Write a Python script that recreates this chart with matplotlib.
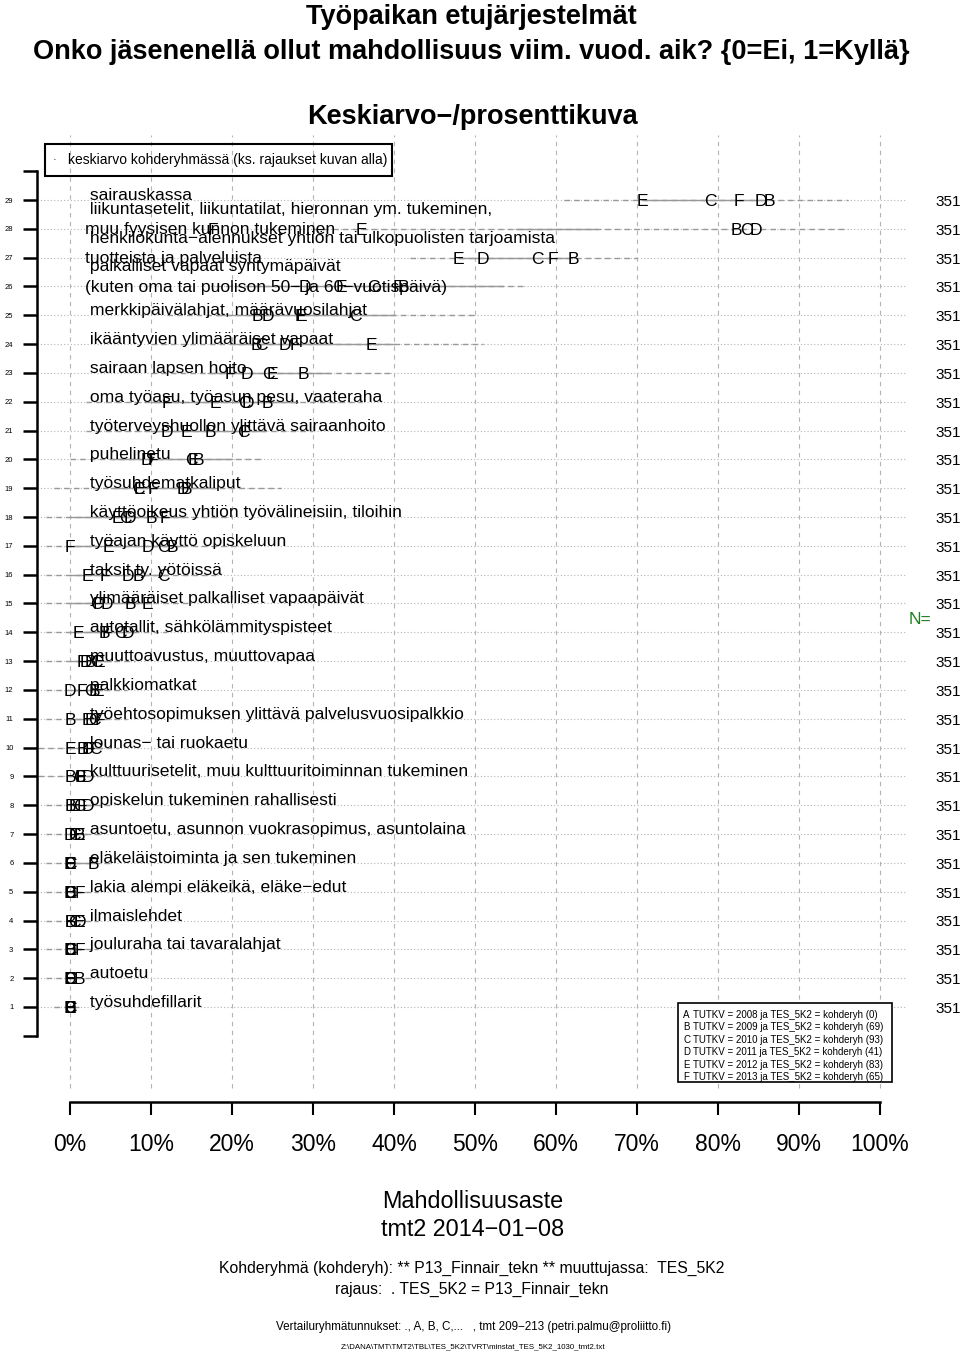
import matplotlib
matplotlib.use("Agg")
import matplotlib.pyplot as plt
from matplotlib.patches import Rectangle

plt.rcParams['font.family'] = ['Liberation Sans', 'DejaVu Sans']

W, H = 960, 1352

rows = list(range(29, 0, -1))
labels = [
    "sairauskassa",
    "liikuntasetelit, liikuntatilat, hieronnan ym. tukeminen,\nmuu fyysisen kunnon tukeminen",
    "henkilökunta−alennukset yhtiön tai ulkopuolisten tarjoamista\ntuotteista ja palveluista",
    "palkalliset vapaat syntymäpäivät\n(kuten oma tai puolison 50− ja 60−vuotispäivä)",
    "merkkipäivälahjat, määrävuosilahjat",
    "ikääntyvien ylimääräiset vapaat",
    "sairaan lapsen hoito",
    "oma työasu, työasun pesu, vaateraha",
    "työterveyshuollon ylittävä sairaanhoito",
    "puhelinetu",
    "työsuhdematkaliput",
    "käyttöoikeus yhtiön työvälineisiin, tiloihin",
    "työajan käyttö opiskeluun",
    "taksit ty. yötöissä",
    "ylimääräiset palkalliset vapaapäivät",
    "autotallit, sähkölämmityspisteet",
    "muuttoavustus, muuttovapaa",
    "palkkiomatkat",
    "työehtosopimuksen ylittävä palvelusvuosipalkkio",
    "lounas− tai ruokaetu",
    "kulttuurisetelit, muu kulttuuritoiminnan tukeminen",
    "opiskelun tukeminen rahallisesti",
    "asuntoetu, asunnon vuokrasopimus, asuntolaina",
    "eläkeläistoiminta ja sen tukeminen",
    "lakia alempi eläkeikä, eläke−edut",
    "ilmaislehdet",
    "jouluraha tai tavaralahjat",
    "autoetu",
    "työsuhdefillarit",
]

# group percentages per row (rows 29 -> 1)
grp_B = [86.4, 82.3, 62.1, 41.2, 23.1, 23.0, 28.8, 24.4, 17.3, 15.8, 14.4, 10.1, 12.7, 8.4, 7.4,
         4.3, 2.5, 3.0, 0.0, 1.5, 0.0, 0.0, 1.2, 2.9, 0.0, 0.0, 0.0, 1.2, 0.0]
grp_C = [79.1, 83.5, 57.7, 37.5, 35.3, 23.6, 24.5, 21.5, 21.4, 15.0, 8.4, 6.8, 11.5, 11.5, 3.3,
         6.2, 3.3, 2.5, 3.0, 3.2, 1.2, 1.2, 0.5, 0.0, 0.0, 0.5, 0.0, 0.0, 0.0]
grp_D = [85.3, 84.7, 51.0, 29.0, 24.4, 26.5, 21.8, 22.0, 12.0, 9.5, 14.0, 7.4, 9.6, 7.2, 4.6,
         7.2, 2.0, 0.0, 2.6, 2.2, 2.2, 2.2, 0.0, 0.0, 0.0, 1.2, 0.0, 0.0, 0.0]
grp_E = [70.7, 36.0, 47.9, 33.5, 28.6, 37.2, 25.0, 18.0, 14.4, 15.2, 8.6, 5.9, 4.7, 2.1, 9.5,
         1.0, 3.6, 3.5, 2.2, 0.0, 1.4, 0.5, 1.2, 0.0, 0.0, 1.2, 0.0, 0.0, 0.0]
grp_F = [82.6, 17.7, 59.6, 40.5, 28.4, 27.8, 19.8, 12.0, 21.6, 10.2, 10.2, 11.7, 0.0, 4.3, 3.5,
         4.5, 1.5, 1.5, 3.7, 2.5, 1.2, 1.5, 0.5, 0.0, 1.2, 0.0, 1.2, 0.0, 0.0]
groups = {'B': grp_B, 'C': grp_C, 'D': grp_D, 'E': grp_E, 'F': grp_F}

# gray range lines (dashed wide, solid narrow)
dash_lo = [61, 30, 42, 18, 12, 10, 10, 2, 2, 0, -2, -3, -3, -3, -3, -3, -3, -3, -3, -4, -4, -3,
           -3, -3, -3, -3, -3, -3, -2]
dash_hi = [96, 96, 70, 56.4, 50, 51, 39.7, 36, 30, 24, 26, 20, 22, 18, 15, 12, 8, 7, 7, 6, 6, 5,
           4, 5, 3.5, 3.5, 3.5, 3, 1.5]
solid_lo = [71, 55, 48, 22, 18, 20, 17, 10, 10, 5, 5, 0, 0, 0, 0, 0, 0, 0, 0, 0, 0, 0, 0, 0, 0,
            0, 0, 0, 0]
solid_hi = [86, 65, 62, 53.5, 40, 40, 32, 28, 24, 20, 18, 14, 14, 12, 10, 8, 5, 4, 4, 4, 3, 3,
            2, 3, 1.5, 1.5, 1.5, 1.5, 0.5]

n_values = [351] * 29

xticks = list(range(0, 101, 10))
xticklabels = [f"{t}%" for t in xticks]

legend_groups = ['A', 'B', 'C', 'D', 'E', 'F']
legend_years = [2008, 2009, 2010, 2011, 2012, 2013]
legend_n = [0, 69, 93, 41, 83, 65]


def fx(px):
    return px / W


def fy(py):
    return 1 - py / H


fig = plt.figure(figsize=(W / 100, H / 100), dpi=100)

x_left, x_right = 37, 907
y_top, y_bot = 135, 1102
ax = fig.add_axes([fx(x_left), fy(y_bot), (x_right - x_left) / W, (y_bot - y_top) / H])
px_per_pct = 8.1
row_px = 28.82
ax.set_xlim((x_left - 70) / px_per_pct, (x_right - 70) / px_per_pct)
ax.set_ylim(1 - (y_bot - 1007) / row_px, 29 + (200 - y_top) / row_px)
ax.patch.set_alpha(0)

for s in ['top', 'right']:
    ax.spines[s].set_visible(False)
ax.spines['left'].set_bounds(0, 30)
ax.spines['left'].set_linewidth(1.8)
ax.spines['bottom'].set_bounds(0, 100)
ax.spines['bottom'].set_linewidth(1.8)

ax.set_xticks(xticks)
ax.set_xticklabels(xticklabels, fontsize=16.5)
ax.tick_params(axis='x', length=9.5, width=1.5, pad=13)
ax.set_yticks(range(0, 31))
ax.set_yticklabels([''] + [str(i) for i in range(1, 30)] + [''], fontsize=5.5)
ax.tick_params(axis='y', length=10, width=1.8, pad=7)

xl = ax.get_xlim()
ax.hlines(rows, xl[0], xl[1], colors='#b4b4b4', linestyles=(0, (1, 2)), lw=0.8, zorder=1)
ax.vlines(xticks, -1.8, ax.get_ylim()[1], colors='#b4b4b4', linestyles=(0, (4, 4)), lw=0.8,
          zorder=1)

for i, r in enumerate(rows):
    ax.plot([dash_lo[i], dash_hi[i]], [r, r], color='#999999', ls=(0, (4, 3)), lw=1.0, zorder=2)
    ax.plot([solid_lo[i], solid_hi[i]], [r, r], color='#999999', ls='-', lw=1.0, zorder=2)

lab_x = (85 - 70) / px_per_pct
for i, r in enumerate(rows):
    lines = labels[i].split('\n')
    if len(lines) == 1:
        ax.text(lab_x, r, " " + lines[0], ha='left', va='baseline', fontsize=12.6, zorder=3)
    else:
        n = len(lines)
        for j, ln in enumerate(lines):
            yy = r - 5.5 / row_px + (n - 1 - j) * 20.5 / row_px
            txt = " " + ln if j == 0 else ln
            ax.text(lab_x, yy, txt, ha='left', va='baseline', fontsize=12.6, zorder=3)

for g, vals in groups.items():
    for i, r in enumerate(rows):
        ax.text(vals[i], r - 6 / row_px, g, ha='center', va='baseline', fontsize=12.6, zorder=4)

for i, r in enumerate(rows):
    fig.text(fx(935), fy(200 + (29 - r) * row_px + 6), str(n_values[i]), ha='left',
             va='baseline', fontsize=11)
fig.text(fx(909), fy(624), "N=", ha='left', va='baseline', fontsize=12.6, color='#1e7d1e')

# titles
fig.text(fx(471), fy(17), "Työpaikan etujärjestelmät", ha='center', va='center',
         fontsize=19.5, fontweight='bold')
fig.text(fx(471), fy(52), "Onko jäsenenellä ollut mahdollisuus viim. vuod. aik? {0=Ei, 1=Kyllä}",
         ha='center', va='center', fontsize=19.5, fontweight='bold')
fig.text(fx(472), fy(117), "Keskiarvo−/prosenttikuva", ha='center', va='center',
         fontsize=19.5, fontweight='bold')

# top legend box
fig.add_artist(Rectangle((fx(45), fy(176)), (392 - 45) / W, (176 - 144) / H,
                         transform=fig.transFigure, fill=False, ec='black', lw=1.5))
fig.text(fx(55), fy(160), "·", ha='center', va='center', fontsize=8)
fig.text(fx(68), fy(160), "keskiarvo kohderyhmässä (ks. rajaukset kuvan alla)", ha='left',
         va='center', fontsize=10)

# bottom-right legend box
fig.add_artist(Rectangle((fx(678), fy(1082)), (892 - 678) / W, (1082 - 1003) / H,
                         transform=fig.transFigure, fc='white', ec='black', lw=1.2, zorder=5))
for k, g in enumerate(legend_groups):
    yy = fy(1015 + k * 12.4)
    fig.text(fx(683), yy, g, ha='left', va='center', fontsize=7, zorder=6)
    fig.text(fx(693), yy, f"TUTKV = {legend_years[k]} ja TES_5K2 = kohderyh ({legend_n[k]})",
             ha='left', va='center', fontsize=7, zorder=6)

# bottom texts
fig.text(fx(473), fy(1202), "Mahdollisuusaste", ha='center', va='center', fontsize=16.8)
fig.text(fx(473), fy(1230), "tmt2 2014−01−08", ha='center', va='center', fontsize=16.8)
fig.text(fx(472), fy(1268), "Kohderyhmä (kohderyh): ** P13_Finnair_tekn ** muuttujassa:  TES_5K2",
         ha='center', va='center', fontsize=11.3)
fig.text(fx(472), fy(1289), "rajaus:  . TES_5K2 = P13_Finnair_tekn", ha='center', va='center',
         fontsize=11.3)
fig.text(fx(473), fy(1327),
         "Vertailuryhmätunnukset: ., A, B, C,...   , tmt 209−213 (petri.palmu@proliitto.fi)",
         ha='center', va='center', fontsize=8.4)
fig.text(fx(473), fy(1347), "Z:\\DANA\\TMT\\TMT2\\TBL\\TES_5K2\\TVRT\\minstat_TES_5K2_1030_tmt2.txt",
         ha='center', va='center', fontsize=5.7)

fig.savefig("out.png", dpi=100)
